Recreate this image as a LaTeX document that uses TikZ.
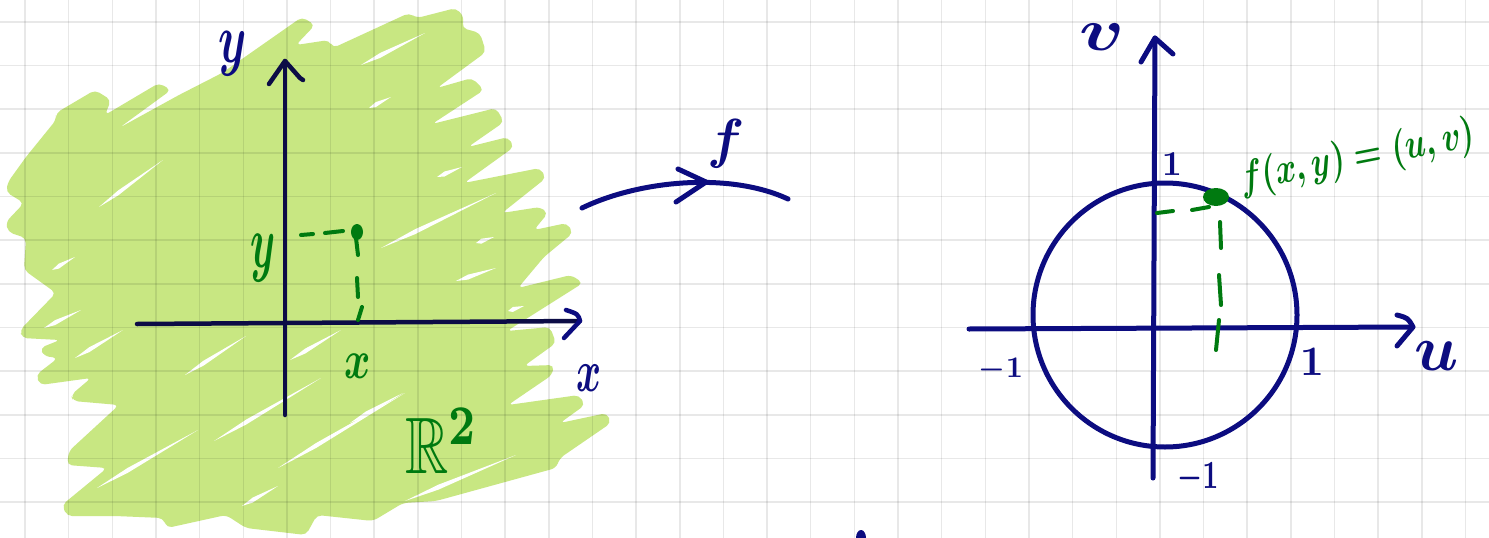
\documentclass[tikz,border=0pt]{standalone}
\usepackage{amssymb}
\usetikzlibrary{calc}
\definecolor{navyc}{RGB}{12,12,128}
\definecolor{darknavy}{RGB}{12,12,70}
\definecolor{hl}{RGB}{200,231,130}
\definecolor{pen}{RGB}{0,122,16}
\tikzset{
  gridline/.style={black, opacity=0.09, line width=1.5pt},
  navypen/.style={navyc, line width=5pt, line cap=round, line join=round},
  leftaxis/.style={darknavy, line width=4.5pt, line cap=round, line join=round},
  greenpen/.style={pen, line width=4pt, line cap=round},
  lbl/.style={inner sep=0pt, text=navyc},
  glbl/.style={inner sep=0pt, text=pen},
  sliverfill/.style={fill=white},
}
\newcommand\sliv[2]{\fill[sliverfill] #1 -- ($#1!0.3!#2+(0,2.5)$) -- #2 -- ($#1!0.3!#2+(0,-2.5)$) -- cycle;}
\newcommand\hw[1]{{\boldmath$#1$}}
\begin{document}
\begin{tikzpicture}[x=1pt,y=-1pt]
\useasboundingbox (0,0) rectangle (1489,538);
\fill[white] (0,0) rectangle (1489,538);

% highlighter scribble
\fill[hl, rounded corners=5pt]
 (6,192) -- (8,182) -- (26,157) -- (56,120) -- (56,113) -- (95,90) -- (111,100) -- (105,115)
 -- (159,83) -- (171,90) -- (119,128) -- (179,95) -- (222,73) -- (302,17) -- (315,25) -- (296,45)
 -- (329,40) -- (333,48) -- (409,13) -- (417,18) -- (456,8) -- (464,17) -- (462,28) -- (480,33)
 -- (486,52) -- (437,88) -- (472,78) -- (484,90) -- (432,124) -- (496,108) -- (504,122) -- (468,147)
 -- (508,137) -- (514,147) -- (464,183) -- (540,168) -- (546,178) -- (502,213) -- (540,207) -- (548,213)
 -- (534,230) -- (567,223) -- (573,233) -- (544,257) -- (518,288) -- (571,275) -- (583,283) -- (507,331)
 -- (550,327) -- (556,343) -- (524,366) -- (554,365) -- (552,375) -- (508,405) -- (579,395) -- (585,405)
 -- (560,423) -- (607,413) -- (611,423) -- (560,458) -- (556,468) -- (436,501) -- (403,503) -- (373,521)
 -- (317,515) -- (306,535) -- (246,528) -- (226,515) -- (167,528) -- (163,518) -- (115,516) -- (67,516)
 -- (62,505) -- (107,468) -- (67,465) -- (69,451) -- (119,405) -- (73,401) -- (71,395) -- (91,378)
 -- (40,385) -- (36,375) -- (58,358) -- (44,356) -- (40,348) -- (60,340) -- (22,338) -- (20,330)
 -- (56,293) -- (24,270) -- (26,238) -- (8,232) -- (6,222) -- (24,203) -- cycle;
% white gaps between strokes
\sliv{(361,65)}{(425,33)}
\sliv{(369,108)}{(391,97)}
\sliv{(437,177)}{(462,167)}
\sliv{(381,248)}{(496,193)}
\sliv{(476,243)}{(494,237)}
\sliv{(99,207)}{(163,160)}
\sliv{(52,270)}{(75,257)}
\sliv{(44,328)}{(81,310)}
\sliv{(75,358)}{(123,330)}
\sliv{(185,375)}{(246,336)}
\sliv{(290,360)}{(341,330)}
\sliv{(214,441)}{(321,378)}
\sliv{(97,488)}{(198,430)}
\sliv{(278,468)}{(405,393)}
\sliv{(242,506)}{(278,486)}
\sliv{(405,501)}{(516,455)}
\sliv{(456,281)}{(496,268)}
\sliv{(508,311)}{(524,306)}
\sliv{(350,423)}{(403,393)}

% grid
\foreach \i in {0,...,33} \draw[gridline] ({25+43.65*\i},0) -- ({25+43.65*\i},538);
\foreach \j in {0,...,11} \draw[gridline] (0,{21.9+43.65*\j}) -- (1489,{21.9+43.65*\j});

% left axes
\coordinate (ya) at (285,415); \coordinate (yb) at (285,61);
\coordinate (xa) at (137,324); \coordinate (xb) at (580,321);
\draw[leftaxis] (ya) -- (yb);
\draw[leftaxis] (269,84) -- (yb) -- (300,78) -- (303,80);
\draw[leftaxis] (xa) -- (xb);
\draw[leftaxis, navyc] (566,310) .. controls (578,314) .. (xb) -- (564,338);
\node[lbl, xscale=4.5, yscale=7, transform shape] (ylab) at (233,54) {\hw{y}};
\node[lbl, xscale=3.8, yscale=6, transform shape] (xlab) at (589,378) {\hw{x}};

% green point on the left
\fill[pen] (357,232) ellipse [x radius=6, y radius=8];
\draw[greenpen] (356,238) -- (358,255);
\draw[greenpen] (357,278) -- (358,297);
\draw[greenpen] (362,307) -- (358,320);
\draw[greenpen] (301,235) -- (313,234);
\draw[greenpen] (325,233) -- (343,231);
\node[glbl, xscale=4, yscale=7.5, transform shape] (gy) at (263,258) {\hw{y}};
\node[glbl, xscale=4, yscale=5.5, transform shape] (gx) at (358,366) {\hw{x}};
\node[glbl, xscale=6, yscale=8, transform shape] (R2) at (442,441) {\hw{\mathbb{R}^{2}}};

% map arrow f
\coordinate (fa) at (582,208); \coordinate (fb) at (788,199);
\draw[navypen] (fa) .. controls (640,180) and (730,172) .. (fb);
\draw[navypen] (678,169) -- (706,182) -- (676,202);
\node[lbl, scale=5.5, transform shape] (flab) at (726,144) {\hw{f}};

% right axes
\coordinate (va) at (1153,478); \coordinate (vb) at (1155,38);
\coordinate (ua) at (969,329); \coordinate (ub) at (1413,327);
\draw[navypen] (va) -- (vb);
\draw[navypen] (1141,62) -- (vb) -- (1173,54);
\draw[navypen] (ua) -- (ub);
\draw[navypen] (1397,315) .. controls (1408,318) .. (ub) -- (1397,346);
\draw[navypen] (1165,315) circle [radius=132];
\node[lbl, xscale=7.5, yscale=6, transform shape] (vlab) at (1102,37) {\hw{v}};
\node[lbl, scale=6.5, transform shape] (ulab) at (1437,356) {\hw{u}};
\node[lbl, scale=3.5, transform shape] (one1) at (1172,164) {\hw{1}};
\node[lbl, scale=4.2, transform shape] (one2) at (1312,362) {\hw{1}};
\node[lbl, scale=3, transform shape] (m1a) at (1001,370) {\hw{-1}};
\node[lbl, xscale=2.8, yscale=4, transform shape] (m1b) at (1198,478) {\hw{-1}};

% green point on the circle
\fill[pen] (1216,197) ellipse [x radius=13, y radius=9];
\draw[greenpen] (1157,213) -- (1173,211);
\draw[greenpen] (1192,210) -- (1209,207);
\draw[greenpen] (1220,222) -- (1221,248);
\draw[greenpen] (1219,275) -- (1221,305);
\draw[greenpen] (1219,320) -- (1216,350);
\node[glbl, xscale=3.1, yscale=4.3, rotate=8, transform shape] (fxy) at (1358,158) {\hw{f(x,y)=(u,v)}};

% small mark at the bottom edge
\fill[navyc] (861,538) ellipse [x radius=5, y radius=8];
\end{tikzpicture}
\end{document}
